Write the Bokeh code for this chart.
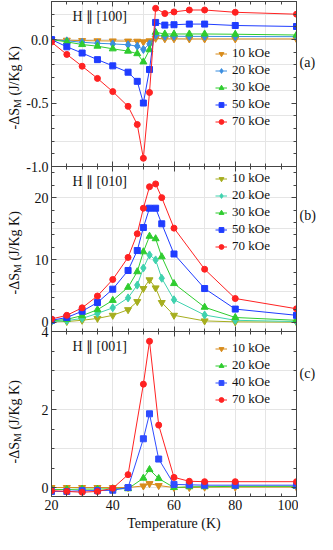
import math
from bokeh.plotting import figure
from bokeh.models import Range1d, LinearAxis, FixedTicker, Label, PrintfTickFormatter
from bokeh.layouts import column, row
from bokeh.embed import file_html
from bokeh.resources import INLINE

# ---------------- data ----------------
# Panel (a) H || [100]
xa = [20, 25, 30, 35, 40, 45, 48, 50, 52, 54, 57, 60, 65, 70, 80, 100]
a_10 = [0.0, -0.005, -0.008, -0.01, -0.011, -0.012, -0.013, -0.018, -0.01, 0.01, 0.006, 0.006, 0.005, 0.005, 0.005, 0.005]
a_20 = [0.0, -0.01, -0.021, -0.029, -0.034, -0.041, -0.052, -0.078, -0.034, 0.034, 0.026, 0.026, 0.025, 0.025, 0.024, 0.023]
a_30 = [0.0, -0.018, -0.039, -0.052, -0.073, -0.091, -0.111, -0.176, -0.08, 0.057, 0.044, 0.044, 0.044, 0.044, 0.042, 0.036]
a_50 = [0.0, -0.057, -0.106, -0.158, -0.207, -0.257, -0.329, -0.5, -0.236, 0.135, 0.114, 0.117, 0.122, 0.122, 0.111, 0.103]
a_70 = [-0.02, -0.117, -0.21, -0.306, -0.41, -0.526, -0.669, -0.935, -0.417, 0.246, 0.205, 0.218, 0.233, 0.233, 0.215, 0.2]

# Panel (b) H || [010]
xb = [20, 25, 30, 35, 40, 45, 48, 50, 52, 54, 56, 60, 70, 80, 100]
b_10 = [0.05, 0.1, 0.3, 0.6, 1.1, 2.0, 3.3, 5.4, 6.8, 5.5, 3.15, 1.1, 0.2, 0.05, 0.0]
b_20 = [0.1, 0.25, 0.6, 1.4, 2.3, 3.9, 5.95, 8.7, 10.8, 10.0, 7.05, 3.6, 1.15, 0.3, 0.1]
b_30 = [0.2, 0.45, 1.05, 2.0, 3.5, 5.6, 8.1, 11.3, 13.8, 13.4, 10.5, 6.2, 2.4, 0.75, 0.3]
b_50 = [0.3, 0.75, 1.75, 3.15, 5.3, 8.3, 11.5, 15.2, 18.3, 18.3, 15.8, 10.95, 5.4, 2.1, 1.1]
b_70 = [0.5, 1.1, 2.3, 4.2, 6.85, 10.4, 14.2, 18.3, 21.75, 22.2, 20.0, 15.1, 8.5, 3.8, 2.15]

# Panel (c) H || [001]
xc = [20, 25, 30, 35, 40, 45, 50, 52, 55, 60, 65, 70, 80, 100]
c_10 = [0.0, 0.0, 0.0, 0.0, 0.0, 0.0, 0.04, 0.1, 0.05, 0.0, 0.0, 0.01, 0.01, 0.01]
c_20 = [-0.05, -0.05, -0.04, -0.04, -0.03, -0.03, 0.24, 0.46, 0.23, 0.0, 0.02, 0.02, 0.03, 0.03]
c_40 = [-0.1, -0.1, -0.08, -0.08, -0.07, 0.0, 1.25, 1.89, 0.73, 0.08, 0.07, 0.06, 0.06, 0.06]
c_70 = [-0.08, -0.1, -0.12, -0.1, -0.02, 0.33, 2.65, 3.75, 1.6, 0.26, 0.16, 0.15, 0.15, 0.15]

x_major = [20, 40, 60, 80, 100]
x_minor = [25, 30, 35, 45, 50, 55, 65, 70, 75, 85, 90, 95]
x_title = "Temperature (K)"
panel_titles = ["H ∥ [100]", "H ∥ [010]", "H ∥ [001]"]
panel_tags = ["(a)", "(b)", "(c)"]

FONT = "Liberation Serif"
AXC = "#444444"
TXT = "#111111"
TOTAL_H = 534
OV = 10   # overlap of neighbouring panel canvases (room for boundary tick labels)

def style_axis(ax, show_labels, major=5, minor=3):
    ax.major_tick_in = major
    ax.major_tick_out = 0
    ax.minor_tick_in = minor
    ax.minor_tick_out = 0
    ax.axis_line_color = AXC
    ax.major_tick_line_color = AXC
    ax.minor_tick_line_color = AXC
    ax.major_label_text_font = FONT
    if show_labels:
        ax.major_label_text_color = TXT
        ax.major_label_text_font_size = "14px"
        ax.major_label_standoff = 3
    else:
        ax.major_label_text_color = None
        ax.major_label_text_font_size = "0px"
        ax.major_label_standoff = 0

def make_panel(height, yr, yticks, yminor, b_top, b_bottom, bottom_labels, yfmt=None, margin=None):
    kw = {}
    if margin is not None:
        kw["margin"] = margin
    p = figure(width=275, height=height, x_range=Range1d(20, 100), y_range=Range1d(*yr),
               output_backend="svg", toolbar_location=None,
               x_axis_location=None, y_axis_location=None,
               min_border_left=26, min_border_right=2,
               min_border_top=b_top, min_border_bottom=b_bottom, **kw)
    p.outline_line_color = AXC
    p.background_fill_alpha = 0
    p.border_fill_alpha = 0
    xt = FixedTicker(ticks=x_major, minor_ticks=x_minor)
    yt = FixedTicker(ticks=yticks, minor_ticks=yminor)
    below = LinearAxis(ticker=xt)
    style_axis(below, bottom_labels)
    if bottom_labels:
        below.axis_label = x_title
        below.axis_label_text_font = FONT
        below.axis_label_text_font_style = "normal"
        below.axis_label_text_font_size = "14px"
        below.axis_label_text_color = TXT
        below.axis_label_standoff = 3
    above = LinearAxis(ticker=xt)
    style_axis(above, False)
    left = LinearAxis(ticker=yt)
    style_axis(left, True)
    if yfmt:
        left.formatter = PrintfTickFormatter(format=yfmt)
    right = LinearAxis(ticker=yt)
    style_axis(right, False)
    p.add_layout(below, "below")
    p.add_layout(above, "above")
    p.add_layout(left, "left")
    p.add_layout(right, "right")
    return p

def add_series(p, x, y, color, marker, size, name):
    p.line(x, y, line_color=color, line_width=1, legend_label=name)
    p.scatter(x, y, marker=marker, size=size, fill_color=color, line_color=color, legend_label=name)

def style_legend(p, loc):
    lg = p.legend[0]
    lg.location = loc
    lg.border_line_color = None
    lg.background_fill_alpha = 0
    lg.label_text_font = FONT
    lg.label_text_font_size = "13px"
    lg.label_text_color = TXT
    lg.glyph_width = 12
    lg.glyph_height = 15
    lg.label_height = 15
    lg.spacing = 1
    lg.padding = 0
    lg.margin = 0
    lg.label_standoff = 5

def add_title(p, yr, text):
    p.add_layout(Label(x=20, y=yr[1], x_offset=21, y_offset=-15, text=text, text_font=FONT,
                       text_font_size="14px", text_baseline="middle", text_color=TXT))

# ---------------- panel a ----------------
ya = (-1.0, 0.3)
pa = make_panel(166 + OV, ya, [-1.0, -0.5, 0.0],
                [-0.9, -0.8, -0.7, -0.6, -0.4, -0.3, -0.2, -0.1, 0.1, 0.2, 0.3],
                1, OV, False, yfmt="%.1f")
add_series(pa, xa, a_10, "#d88c1c", "inverted_triangle", 7, "10 kOe")
add_series(pa, xa, a_20, "#3a8ee0", "diamond", 8, "20 kOe")
add_series(pa, xa, a_30, "#2fcc2f", "triangle", 7, "30 kOe")
add_series(pa, xa, a_50, "#1f3cff", "square", 6, "50 kOe")
add_series(pa, xa, a_70, "#ff2222", "circle", 6, "70 kOe")
style_legend(pa, (164, 37))
add_title(pa, ya, panel_titles[0])

# ---------------- panel b ----------------
yb = (-1.5, 25.0)
pb = make_panel(165 + OV, yb, [0, 10, 20], [2, 4, 6, 8, 12, 14, 16, 18, 22, 24],
                0, OV, False, margin=(-OV, 0, 0, 0))
add_series(pb, xb, b_10, "#a6ae1e", "inverted_triangle", 7, "10 kOe")
add_series(pb, xb, b_20, "#3fd2ae", "diamond", 8, "20 kOe")
add_series(pb, xb, b_30, "#2fcc2f", "triangle", 7, "30 kOe")
add_series(pb, xb, b_50, "#1f3cff", "square", 6, "50 kOe")
add_series(pb, xb, b_70, "#ff2222", "circle", 6, "70 kOe")
style_legend(pb, (164, 77))
add_title(pb, yb, panel_titles[1])

# ---------------- panel c ----------------
yc = (-0.23, 4.0)
pc = make_panel(165 + 38 + OV, yc, [0, 2, 4], [0.5, 1.0, 1.5, 2.5, 3.0, 3.5],
                OV, 38, True, margin=(-2 * OV, 0, 0, 0))
add_series(pc, xc, c_10, "#d88c1c", "inverted_triangle", 7, "10 kOe")
add_series(pc, xc, c_20, "#2fcc2f", "triangle", 7, "20 kOe")
add_series(pc, xc, c_40, "#2f4cff", "square", 6, "40 kOe")
add_series(pc, xc, c_70, "#ff2222", "circle", 6, "70 kOe")
style_legend(pc, (164, 89))
add_title(pc, yc, panel_titles[2])

# ---------------- side strips (y titles and panel tags) ----------------
def strip(width):
    s = figure(width=width, height=TOTAL_H, x_range=Range1d(0, width), y_range=Range1d(0, TOTAL_H),
               output_backend="svg", toolbar_location=None,
               x_axis_location=None, y_axis_location=None, min_border=0)
    s.outline_line_color = None
    s.background_fill_alpha = 0
    s.border_fill_alpha = 0
    s.grid.visible = False
    return s

left_strip = strip(23)
label_centers = [87, 252, 421]   # vertical centres (px from top) of the three y titles
ang = math.pi / 2
for yc_px in label_centers:
    y0 = TOTAL_H - yc_px
    left_strip.add_layout(Label(x=14, y=y0, y_offset=-20.5, text="-ΔS", angle=ang,
                                text_align="right", text_baseline="alphabetic", text_font=FONT,
                                text_font_size="14px", text_color=TXT))
    left_strip.add_layout(Label(x=14, y=y0, x_offset=2.5, y_offset=-20.5, text="M", angle=ang,
                                text_align="left", text_baseline="alphabetic", text_font=FONT,
                                text_font_size="10px", text_color=TXT))
    left_strip.add_layout(Label(x=14, y=y0, y_offset=-8, text="(J/Kg K)", angle=ang,
                                text_align="left", text_baseline="alphabetic", text_font=FONT,
                                text_font_size="14px", text_color=TXT))

right_strip = strip(19)
tag_centers = [62, 215, 373]
for t, yt_px in zip(panel_tags, tag_centers):
    right_strip.add_layout(Label(x=1, y=TOTAL_H - yt_px, text=t, text_font=FONT,
                                 text_font_size="14px", text_baseline="middle", text_color=TXT))

layout = row(left_strip, column(pa, pb, pc, spacing=0), right_strip, spacing=0)
open("out.html", "w").write(file_html(layout, INLINE))
